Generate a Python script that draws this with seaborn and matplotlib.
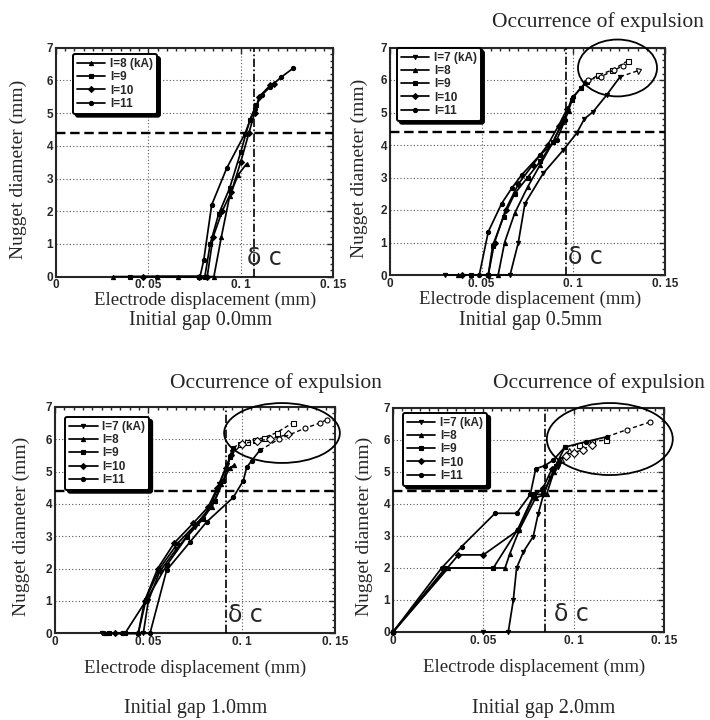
import matplotlib
matplotlib.use("Agg")
import matplotlib.pyplot as plt
import pandas as pd
import seaborn as sns
from matplotlib.patches import Ellipse
from matplotlib.ticker import MultipleLocator

# Figure size in pixels (dpi 100)
W, H = 710, 720

SERIF = ["Liberation Serif", "DejaVu Serif"]
NARROW = ["Liberation Sans Narrow", "Liberation Sans"]
SANS = ["DejaVu Sans"]

MARKERS = {"I=7": "v", "I=8": "^", "I=9": "s", "I=10": "D", "I=11": "o"}

x_ticks = [0, 0.05, 0.1, 0.15]
x_tick_labels = ["0", "0. 05", "0. 1", "0. 15"]
y_ticks = [0, 1, 2, 3, 4, 5, 6, 7]
critical_diameter = 4.4

# ---------------- Initial gap 0.0 mm ----------------
gap00_currents = ["I=8", "I=9", "I=10", "I=11"]
gap00_x = [
    [0.031, 0.066, 0.0855, 0.0895, 0.094, 0.0985, 0.1032],
    [0.040, 0.0775, 0.0806, 0.0835, 0.088, 0.094, 0.100, 0.105, 0.1085],
    [0.047, 0.0775, 0.0819, 0.085, 0.090, 0.095, 0.100, 0.1045, 0.1075, 0.110, 0.116, 0.118],
    [0.0545, 0.078, 0.080, 0.0843, 0.0924, 0.1023, 0.1077, 0.1113, 0.1159, 0.122, 0.1286],
]
gap00_y = [
    [0, 0, 0, 1.2, 2.45, 3.1, 3.45],
    [0, 0, 0, 1.0, 1.9, 2.7, 3.8, 4.8, 5.25],
    [0, 0, 0, 1.2, 2.0, 2.6, 3.5, 4.4, 5.0, 5.5, 5.85, 5.9],
    [0, 0, 0.5, 2.19, 3.31, 4.37, 5.14, 5.54, 5.8, 6.1, 6.38],
]
gap00_exp_x = [None, None, None, None]
gap00_exp_y = [None, None, None, None]
gap00_delta_c = 0.107

# ---------------- Initial gap 0.5 mm ----------------
gap05_currents = ["I=7", "I=8", "I=9", "I=10", "I=11"]
gap05_x = [
    [0.030, 0.0655, 0.070, 0.0736, 0.0836, 0.0946, 0.1018, 0.106, 0.1109, 0.1182, 0.1255],
    [0.037, 0.059, 0.0625, 0.068, 0.075, 0.082, 0.089, 0.094, 0.0975],
    [0.044, 0.0536, 0.056, 0.062, 0.068, 0.075, 0.082, 0.089, 0.095, 0.099, 0.104, 0.1075],
    [0.039, 0.0536, 0.057, 0.063, 0.070, 0.078, 0.086, 0.092, 0.0965],
    [0.0487, 0.0536, 0.0609, 0.0664, 0.0718, 0.0818, 0.0909, 0.0955, 0.100, 0.1064],
]
gap05_y = [
    [0, 0, 1.0, 2.2, 3.13, 3.85, 4.36, 4.8, 5.03, 5.54, 6.1],
    [0, 0, 1.0, 1.9, 2.7, 3.4, 4.1, 4.7, 5.05],
    [0, 0, 0.9, 1.8, 2.5, 3.0, 3.5, 4.1, 4.8, 5.4, 5.75, 5.95],
    [0, 0, 1.0, 2.0, 2.8, 3.4, 4.0, 4.6, 5.1],
    [0, 1.33, 2.2, 2.67, 3.08, 3.69, 4.15, 4.77, 5.49, 5.9],
]
gap05_exp_x = [[0.1255, 0.1355], None, [0.1075, 0.1136, 0.121, 0.130], None,
               [0.1064, 0.1082, 0.115, 0.122, 0.127]]
gap05_exp_y = [[6.1, 6.29], None, [5.95, 6.15, 6.3, 6.6], None,
               [5.9, 6.0, 6.1, 6.3, 6.43]]
gap05_delta_c = 0.096

# ---------------- Initial gap 1.0 mm ----------------
gap10_currents = ["I=7", "I=8", "I=9", "I=10", "I=11"]
gap10_x = [
    [0.025, 0.0473, 0.050, 0.056, 0.065, 0.075, 0.083, 0.088, 0.092, 0.095],
    [0.027, 0.0446, 0.049, 0.056, 0.066, 0.076, 0.084, 0.089, 0.0935, 0.096],
    [0.029, 0.0375, 0.049, 0.0598, 0.0705, 0.0794, 0.0857, 0.0902, 0.0937, 0.0955],
    [0.032, 0.0446, 0.048, 0.055, 0.064, 0.074, 0.082, 0.087, 0.0915, 0.0945],
    [0.036, 0.0509, 0.0598, 0.0723, 0.0812, 0.0955, 0.1009, 0.1027, 0.1053, 0.1098],
]
gap10_y = [
    [0, 0, 1.0, 1.9, 2.6, 3.3, 3.9, 4.6, 5.2, 5.6],
    [0, 0, 1.1, 2.0, 2.8, 3.4, 3.9, 4.6, 5.1, 5.2],
    [0, 0, 1.03, 2.1, 2.97, 3.54, 4.1, 4.72, 5.44, 5.74],
    [0, 0, 1.0, 2.0, 2.8, 3.4, 3.9, 4.5, 5.1, 5.5],
    [0, 0, 1.95, 2.82, 3.44, 4.2, 4.72, 5.13, 5.33, 5.66],
]
gap10_exp_x = [None, None,
               [0.0955, 0.099, 0.103, 0.107, 0.112, 0.1187, 0.1273],
               [0.0945, 0.100, 0.108, 0.1152, 0.125],
               [0.1098, 0.120, 0.134, 0.142, 0.1455]]
gap10_exp_y = [None, None,
               [5.74, 5.85, 5.9, 5.97, 6.05, 6.2, 6.5],
               [5.5, 5.85, 5.95, 6.0, 6.15],
               [5.66, 6.0, 6.34, 6.5, 6.6]]
gap10_delta_c = 0.0916

# ---------------- Initial gap 2.0 mm ----------------
gap20_currents = ["I=7", "I=8", "I=9", "I=10", "I=11"]
gap20_x = [
    [0.050, 0.0638, 0.0666, 0.0684, 0.0722, 0.0776, 0.0804, 0.0832, 0.087, 0.0915, 0.093],
    [0, 0.0306, 0.062, 0.0647, 0.070, 0.079, 0.085, 0.089],
    [0, 0.029, 0.0555, 0.069, 0.078, 0.083, 0.090, 0.0952],
    [0, 0.0362, 0.050, 0.0694, 0.0778, 0.083, 0.088, 0.092],
    [0, 0.0269, 0.038, 0.0565, 0.0684, 0.076, 0.079, 0.084, 0.0887, 0.0952, 0.107, 0.1183],
]
gap20_y = [
    [0, 0, 1.0, 2.0, 2.51, 2.98, 3.7, 4.28, 4.8, 5.16, 5.4],
    [0, 2.0, 2.0, 2.45, 3.2, 4.2, 4.3, 5.0],
    [0, 2.0, 2.0, 3.2, 4.3, 4.3, 5.2, 5.78],
    [0, 2.41, 2.41, 3.19, 4.23, 4.5, 5.1, 5.3],
    [0, 2.0, 2.67, 3.71, 3.71, 4.3, 5.1, 5.2, 5.37, 5.78, 5.95, 6.1],
]
gap20_exp_x = [None, [0.089, 0.093, 0.0975], [0.0952, 0.103, 0.110, 0.118],
               [0.092, 0.096, 0.100, 0.105, 0.110], [0.1183, 0.1293, 0.1422]]
gap20_exp_y = [None, [5.0, 5.4, 5.7], [5.78, 5.85, 5.95, 6.0],
               [5.3, 5.5, 5.6, 5.7, 5.85], [6.1, 6.32, 6.56]]
gap20_delta_c = 0.084


def px_rect(x0, ytop, x1, ybot):
    # Convert a pixel box into figure fractions.
    return [x0 / W, 1 - ybot / H, (x1 - x0) / W, (ybot - ytop) / H]


def draw_panel(ax, currents, xs, ys, exp_xs, exp_ys, delta_c, legend_anchor,
               ellipse=None, delta_dx=0.0):
    handles = []
    for cur, x, y, ex, ey in zip(currents, xs, ys, exp_xs, exp_ys):
        marker = MARKERS[cur]
        df = pd.DataFrame({"disp": x, "diam": y})
        sns.lineplot(data=df, x="disp", y="diam", ax=ax, sort=False, estimator=None,
                     color="black", linewidth=1.25, marker=marker, markersize=3.0,
                     markeredgecolor="black", markeredgewidth=0.8, clip_on=False, zorder=4)
        handles.append(ax.lines[-1])
        if ex is not None:
            edf = pd.DataFrame({"disp": ex, "diam": ey})
            sns.lineplot(data=edf, x="disp", y="diam", ax=ax, sort=False, estimator=None,
                         color="black", linewidth=1.0, linestyle=(0, (3, 2)), marker=marker,
                         markersize=3.6, markerfacecolor="white", markeredgecolor="black",
                         markeredgewidth=0.8, markevery=slice(1, None), clip_on=False, zorder=4)

    # reference lines: critical nugget diameter and critical displacement
    ax.axhline(critical_diameter, color="black", linestyle=(0, (4, 2)), linewidth=1.7, zorder=3)
    ax.axvline(delta_c, color="black", linestyle=(0, (5, 1.5, 1, 1.5)), linewidth=1.2, zorder=3)
    ax.text(delta_c + delta_dx, 0.2, "δ c", fontsize=17, family=SANS, ha="left",
            va="bottom", zorder=5)

    ax.set_xlim(0, 0.15)
    ax.set_ylim(0, 7)
    ax.set_xticks(x_ticks, x_tick_labels, fontsize=8.5, fontweight="bold", family=NARROW)
    ax.set_yticks(y_ticks, [str(v) for v in y_ticks], fontsize=8.5, fontweight="bold",
                  family=NARROW)
    ax.xaxis.set_minor_locator(MultipleLocator(0.005))
    ax.yaxis.set_minor_locator(MultipleLocator(0.2))
    ax.tick_params(which="both", direction="in", top=True, right=True, width=1.0, pad=2)
    ax.tick_params(which="major", length=4)
    ax.tick_params(which="minor", length=2)
    for sp in ax.spines.values():
        sp.set_linewidth(1.5)
    ax.grid(True, which="major", color="#555555", linestyle=(0, (1, 2)), linewidth=0.8)
    ax.set_axisbelow(True)

    ax.set_xlabel("Electrode displacement (mm)", fontsize=13.5, family=SERIF)
    ax.set_ylabel("Nugget diameter (mm)", fontsize=14, family=SERIF)

    leg = ax.legend(handles, [c if i else c + " (kA)" for i, c in enumerate(currents)],
                    loc="upper left", bbox_to_anchor=legend_anchor, borderaxespad=0,
                    prop={"family": NARROW, "weight": "bold", "size": 8.5},
                    handlelength=2.4, handletextpad=0.4, labelspacing=0.1,
                    borderpad=0.35, fancybox=True, framealpha=1, edgecolor="black",
                    shadow={"color": "black", "alpha": 1})
    leg.get_frame().set_linewidth(1.4)
    leg.set_zorder(6)

    if ellipse is not None:
        cx, cy, ew, eh = ellipse
        ax.add_patch(Ellipse((cx, cy), ew, eh, fill=False, edgecolor="black",
                             linewidth=1.3, clip_on=False, zorder=5))


sns.set_style("white")
fig = plt.figure(figsize=(W / 100, H / 100), dpi=100)

ax1 = fig.add_axes(px_rect(56, 47.7, 333, 276.6))
ax2 = fig.add_axes(px_rect(390, 47.5, 665, 275))
ax3 = fig.add_axes(px_rect(55, 406.8, 335, 633.3))
ax4 = fig.add_axes(px_rect(393, 408, 664, 632))

draw_panel(ax1, gap00_currents, gap00_x, gap00_y, gap00_exp_x, gap00_exp_y,
           gap00_delta_c, (0.061, 0.972), delta_dx=-0.0035)
draw_panel(ax2, gap05_currents, gap05_x, gap05_y, gap05_exp_x, gap05_exp_y,
           gap05_delta_c, (0.025, 0.998), ellipse=(0.1241, 6.37, 0.0431, 1.75),
           delta_dx=0.001)
draw_panel(ax3, gap10_currents, gap10_x, gap10_y, gap10_exp_x, gap10_exp_y,
           gap10_delta_c, (0.036, 0.955), ellipse=(0.1216, 6.19, 0.062, 1.85),
           delta_dx=0.001)
draw_panel(ax4, gap20_currents, gap20_x, gap20_y, gap20_exp_x, gap20_exp_y,
           gap20_delta_c, (0.037, 0.978), ellipse=(0.120, 6.03, 0.0697, 2.25),
           delta_dx=0.005)

# label placement (axes fractions)
for ax, xl, yl in [(ax1, 0.54, -0.066), (ax2, 0.51, -0.07), (ax3, 0.5, -0.115), (ax4, 0.52, -0.12)]:
    ax.xaxis.set_label_coords(xl, yl)
for ax, xl in [(ax1, -0.105), (ax2, -0.08), (ax3, -0.09), (ax4, -0.075)]:
    ax.yaxis.set_label_coords(xl, 0.47)

captions = [("Initial gap 0.0mm", 201, 320), ("Initial gap 0.5mm", 531, 320),
            ("Initial gap 1.0mm", 196, 708), ("Initial gap 2.0mm", 544, 708)]
for txt, cx, cy in captions:
    fig.text(cx / W, 1 - cy / H, txt, fontsize=14.5, family=SERIF, ha="center", va="center")

for cx, cy in [(492, 22), (170, 383), (493, 383)]:
    fig.text(cx / W, 1 - cy / H, "Occurrence of expulsion", fontsize=15.5, family=SERIF,
             ha="left", va="center")

fig.savefig("out.png", dpi=100)
